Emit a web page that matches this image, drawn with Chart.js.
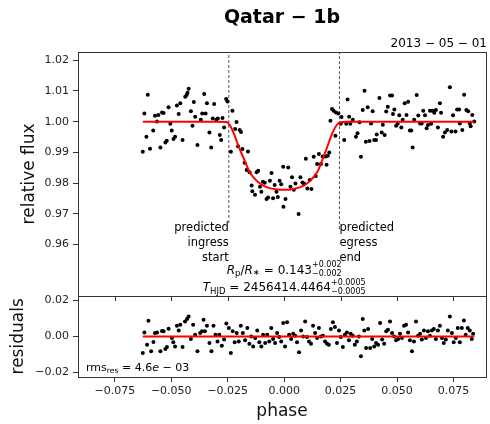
<!DOCTYPE html>
<html>
<head>
<meta charset="utf-8">
<script src="https://cdn.jsdelivr.net/npm/chart.js@4.4.1/dist/chart.umd.min.js"></script>
<style>
  body { margin: 0; background: #fff; }
  #wrap { width: 490px; height: 424px; position: relative; }
</style>
</head>
<body>
<div id="wrap"><canvas id="transit"></canvas></div>
<script>
// light curve
const phaseData = [
  -0.0626, -0.0619, -0.0610, -0.0604, -0.0594, -0.0580, -0.0572, -0.0563, -0.0557, -0.0548,
  -0.0541, -0.0534, -0.0526, -0.0520, -0.0512, -0.0504, -0.0498, -0.0490, -0.0483, -0.0475,
  -0.0467, -0.0460, -0.0450, -0.0438, -0.0432, -0.0428, -0.0423, -0.0413, -0.0406, -0.0400,
  -0.0394, -0.0384, -0.0369, -0.0363, -0.0354, -0.0348, -0.0342, -0.0331, -0.0323, -0.0316,
  -0.0310, -0.0300, -0.0294, -0.0285, -0.0279, -0.0273, -0.0266, -0.0257, -0.0251, -0.0236,
  -0.0229, -0.0211, -0.0217, -0.0197, -0.0191, -0.0204, -0.0185, -0.0160, -0.0175, -0.0166,
  -0.0153, -0.0122, -0.0115, -0.0144, -0.0141, -0.0129, -0.0107, -0.0101, -0.0094, -0.0086,
  -0.0078, -0.0071, -0.0063, -0.0056, -0.0049, -0.0042, -0.0034, -0.0028, -0.0020, -0.0013,
  -0.0004, -0.0003, 0.0006, 0.0018, 0.0028, 0.0035, 0.0043, 0.0050, 0.0064, 0.0072,
  0.0081, 0.0088, 0.0096, 0.0103, 0.0113, 0.0121, 0.0131, 0.0140, 0.0146, 0.0154,
  0.0163, 0.0171, 0.0183, 0.0188, 0.0193, 0.0200, 0.0205, 0.0212, 0.0219, 0.0229,
  0.0240, 0.0227, 0.0254, 0.0251, 0.0266, 0.0275, 0.0281, 0.0288, 0.0293, 0.0304,
  0.0318, 0.0325, 0.0334, 0.0340, 0.0348, 0.0356, 0.0362, 0.0370, 0.0378, 0.0385,
  0.0392, 0.0399, 0.0407, 0.0410, 0.0422, 0.0432, 0.0437, 0.0445, 0.0452, 0.0459,
  0.0469, 0.0478, 0.0482, 0.0488, 0.0496, 0.0503, 0.0510, 0.0519, 0.0525, 0.0534,
  0.0542, 0.0549, 0.0557, 0.0563, 0.0569, 0.0576, 0.0587, 0.0594, 0.0602, 0.0609,
  0.0616, 0.0624, 0.0631, 0.0637, 0.0646, 0.0651, 0.0657, 0.0665, 0.0672, 0.0681,
  0.0690, 0.0695, 0.0704, 0.0712, 0.0722, 0.0734, 0.0741, 0.0748, 0.0759, 0.0766,
  0.0775, 0.0778, 0.0789, 0.0797, 0.0807, 0.0815, 0.0822, 0.0826, 0.0833, 0.0842
];
const fluxData = [
  0.9902, 1.0027, 0.9951, 1.0088, 0.9912, 0.9971, 1.0019, 1.0001, 1.0022, 0.9916,
  1.0030, 1.0028, 0.9932, 0.9938, 1.0047, 0.9993, 0.9971, 0.9944, 0.9951, 1.0053,
  1.0025, 1.0060, 0.9940, 1.0081, 1.0087, 1.0094, 1.0107, 1.0034, 0.9987, 1.0064,
  1.0016, 0.9924, 1.0006, 1.0027, 1.0090, 1.0027, 1.0060, 0.9965, 0.9916, 1.0010,
  1.0058, 1.0006, 1.0010, 0.9957, 0.9940, 1.0012, 0.9981, 1.0074, 1.0066, 0.9902,
  1.0036, 0.9999, 0.9976, 0.9973, 0.9966, 0.9920, 0.9911, 0.9903, 0.9866, 0.9843,
  0.9835, 0.9835, 0.9840, 0.9792, 0.9773, 0.9762, 0.9788, 0.9772, 0.9804, 0.9801,
  0.9748, 0.9753, 0.9808, 0.9833, 0.9751, 0.9794, 0.9772, 0.9755, 0.9808, 0.9796,
  0.9853, 0.9723, 0.9748, 0.9851, 0.9788, 0.9819, 0.9778, 0.9799, 0.9699, 0.9819,
  0.9802, 0.9799, 0.9879, 0.9782, 0.9810, 0.9781, 0.9886, 0.9823, 0.9862, 0.9895,
  0.9862, 0.9887, 0.9887, 0.9860, 0.9889, 0.9900, 1.0003, 1.0041, 1.0036, 1.0030,
  1.0027, 0.9954, 1.0015, 0.9993, 0.9940, 0.9993, 1.0072, 1.0016, 0.9993, 1.0006,
  0.9951, 0.9962, 0.9998, 0.9886, 1.0038, 1.0101, 0.9935, 1.0047, 0.9937, 0.9994,
  1.0034, 0.9940, 0.9940, 0.9958, 1.0077, 0.9965, 0.9990, 0.9957, 1.0033, 1.0049,
  1.0085, 1.0085, 1.0025, 1.0040, 0.9987, 0.9993, 1.0021, 0.9981, 1.0006, 1.0060,
  1.0022, 1.0065, 0.9971, 0.9971, 0.9916, 1.0006, 1.0087, 1.0020, 0.9994, 0.9994,
  1.0036, 1.0021, 0.9979, 0.9989, 1.0036, 0.9993, 1.0036, 1.0029, 1.0038, 0.9981,
  1.0060, 1.0029, 0.9951, 0.9965, 0.9973, 1.0112, 0.9968, 1.0021, 0.9968, 1.0040,
  1.0040, 0.9994, 0.9973, 1.0088, 1.0038, 1.0034, 0.9994, 0.9985, 1.0022, 1.0001
];

// fitted transit model (red curve)
const modelPhase = [-0.0626, -0.0300, -0.0255, -0.0239, -0.0222, -0.0200, -0.0178, -0.0156, -0.0134, -0.0104,
  -0.0075, -0.0031, 0.0006, 0.0043, 0.0087, 0.0116, 0.0146, 0.0168, 0.0190, 0.0212,
  0.0234, 0.0249, 0.0280, 0.0842];
const modelFlux = [1.0000, 1.0000, 0.9999, 0.9987, 0.9960, 0.9916, 0.9879, 0.9840, 0.9817, 0.9797,
  0.9786, 0.9779, 0.9778, 0.9781, 0.9792, 0.9808, 0.9835, 0.9873, 0.9916, 0.9960,
  0.9990, 0.9998, 1.0000, 1.0000];

// residuals panel
const phaseRes = [
  -0.0626, -0.0619, -0.0607, -0.0601, -0.0589, -0.0579, -0.0572, -0.0563, -0.0548, -0.0541,
  -0.0534, -0.0526, -0.0519, -0.0512, -0.0497, -0.0491, -0.0483, -0.0475, -0.0467, -0.0460,
  -0.0450, -0.0439, -0.0430, -0.0423, -0.0413, -0.0403, -0.0394, -0.0384, -0.0372, -0.0364,
  -0.0357, -0.0351, -0.0342, -0.0331, -0.0322, -0.0313, -0.0304, -0.0295, -0.0287, -0.0276,
  -0.0266, -0.0256, -0.0245, -0.0236, -0.0228, -0.0219, -0.0210, -0.0201, -0.0192, -0.0183,
  -0.0173, -0.0163, -0.0154, -0.0146, -0.0137, -0.0128, -0.0119, -0.0110, -0.0101, -0.0093,
  -0.0084, -0.0075, -0.0066, -0.0057, -0.0049, -0.0040, -0.0031, -0.0022, -0.0013, -0.0004,
  0.0004, 0.0013, 0.0022, 0.0031, 0.0040, 0.0049, 0.0057, 0.0066, 0.0075, 0.0084,
  0.0093, 0.0101, 0.0110, 0.0119, 0.0128, 0.0137, 0.0146, 0.0154, 0.0163, 0.0172,
  0.0181, 0.0190, 0.0198, 0.0207, 0.0216, 0.0225, 0.0234, 0.0243, 0.0251, 0.0260,
  0.0269, 0.0278, 0.0287, 0.0295, 0.0304, 0.0313, 0.0322, 0.0331, 0.0340, 0.0348,
  0.0355, 0.0363, 0.0372, 0.0381, 0.0390, 0.0399, 0.0407, 0.0416, 0.0425, 0.0434,
  0.0443, 0.0452, 0.0460, 0.0469, 0.0478, 0.0487, 0.0496, 0.0505, 0.0513, 0.0522,
  0.0531, 0.0540, 0.0549, 0.0557, 0.0566, 0.0575, 0.0584, 0.0593, 0.0602, 0.0610,
  0.0619, 0.0628, 0.0637, 0.0646, 0.0654, 0.0663, 0.0672, 0.0681, 0.0690, 0.0699,
  0.0707, 0.0716, 0.0725, 0.0734, 0.0743, 0.0751, 0.0760, 0.0769, 0.0778, 0.0787,
  0.0796, 0.0804, 0.0813, 0.0822, 0.0831, 0.0837
];
const residuals = [
  -0.0092, 0.0022, -0.0046, 0.0087, -0.0083, -0.0031, 0.0019, 0.0022, -0.0083, 0.0030,
  0.0028, -0.0070, -0.0059, 0.0043, -0.0009, -0.0033, -0.0056, 0.0059, 0.0033, 0.0065,
  -0.0059, 0.0083, 0.0097, 0.0111, -0.0014, 0.0065, 0.0009, -0.0083, 0.0019, 0.0028,
  0.0093, 0.0028, 0.0059, -0.0037, -0.0083, 0.0059, 0.0009, -0.0028, 0.0009, -0.0052,
  -0.0018, 0.0071, 0.0047, -0.0092, 0.0028, -0.0033, 0.0019, -0.0028, 0.0059, 0.0019,
  -0.0022, 0.0047, -0.0041, 0.0000, -0.0056, -0.0009, 0.0033, -0.0033, -0.0056, 0.0009,
  -0.0037, 0.0009, -0.0028, 0.0047, -0.0014, -0.0037, 0.0019, -0.0003, -0.0028, 0.0075,
  -0.0056, 0.0078, 0.0009, -0.0014, 0.0015, 0.0004, -0.0033, -0.0089, 0.0033, 0.0000,
  0.0083, -0.0003, -0.0028, -0.0041, 0.0059, 0.0019, -0.0009, 0.0047, 0.0000, 0.0004,
  -0.0028, -0.0041, -0.0046, 0.0041, 0.0078, 0.0052, -0.0037, 0.0033, -0.0003, -0.0059,
  0.0009, 0.0022, -0.0022, 0.0015, 0.0004, -0.0046, -0.0028, 0.0000, -0.0111, 0.0097,
  0.0033, -0.0064, 0.0041, -0.0064, -0.0014, -0.0056, -0.0037, -0.0046, 0.0075, -0.0018,
  -0.0041, 0.0028, 0.0037, 0.0083, 0.0019, 0.0000, -0.0022, -0.0014, 0.0015, -0.0009,
  0.0059, 0.0065, 0.0022, -0.0022, -0.0083, -0.0028, 0.0083, 0.0004, 0.0015, -0.0018,
  0.0033, -0.0009, 0.0028, 0.0004, 0.0033, 0.0041, -0.0014, 0.0033, 0.0059, -0.0009,
  -0.0037, -0.0018, 0.0033, 0.0111, 0.0019, -0.0033, -0.0009, 0.0047, -0.0033, 0.0047,
  0.0089, 0.0009, 0.0047, 0.0033, -0.0014, 0.0015
];
const resLinePhase = [-0.0626, 0.0842];
const resLineValue = [0, 0];

const ingressPhase = -0.0245, egressPhase = 0.0245;
const xTicks = [-0.075, -0.05, -0.025, 0, 0.025, 0.05, 0.075];
const fluxTicks = [0.96, 0.97, 0.98, 0.99, 1.00, 1.01, 1.02];
const resTicks = [-0.02, 0, 0.02];

const FAMILY = '"DejaVu Sans", sans-serif';
const AXIS = '#333';
const pts = (xs, ys) => xs.map((x, i) => ({ x: x, y: ys[i] }));
const fmt = d => v => (v < -1e-9 ? '\u2212' : '') + Math.abs(v).toFixed(d);

function partWidth(ctx, p) {
  ctx.font = (p.italic ? 'italic ' : '') + p.size + 'px ' + FAMILY;
  if (p.sup) return Math.max(ctx.measureText(p.sup).width, ctx.measureText(p.sub).width);
  return ctx.measureText(p.t).width;
}
// draws a run of mathtext-like pieces (sub/superscripts)
function drawMath(ctx, parts, x, base, align) {
  const w = parts.reduce((s, p) => s + partWidth(ctx, p), 0);
  let cx = align === 'center' ? x - w / 2 : x;
  ctx.textAlign = 'left';
  ctx.textBaseline = 'alphabetic';
  for (const p of parts) {
    const pw = partWidth(ctx, p);
    if (p.sup) {
      ctx.fillText(p.sup, cx, base + p.supDy);
      ctx.fillText(p.sub, cx, base + p.subDy);
    } else {
      ctx.fillText(p.t, cx, base + (p.dy || 0));
    }
    cx += pw;
  }
}

const decorations = {
  id: 'decorations',
  afterDraw(chart) {
    const { ctx, chartArea: area, scales } = chart;
    const x = scales.x, yTop = scales.y, yRes = scales.y2;
    ctx.save();
    // panel frames
    ctx.strokeStyle = AXIS;
    ctx.lineWidth = 1;
    [yTop, yRes].forEach(s => {
      ctx.strokeRect(Math.round(area.left) + 0.5, Math.round(s.top) + 0.5,
        Math.round(area.right - area.left), Math.round(s.bottom - s.top));
    });
    // top panel x ticks (no labels)
    ctx.beginPath();
    xTicks.forEach(v => {
      const px = Math.round(x.getPixelForValue(v)) + 0.5;
      ctx.moveTo(px, Math.round(yTop.bottom));
      ctx.lineTo(px, Math.round(yTop.bottom) + 5);
    });
    ctx.stroke();

    ctx.fillStyle = '#000';
    // title and date
    ctx.font = 'bold 19px ' + FAMILY;
    ctx.textAlign = 'center';
    ctx.textBaseline = 'middle';
    ctx.fillText('Qatar \u2212 1b', (area.left + area.right) / 2, 18);
    ctx.font = '12px ' + FAMILY;
    ctx.textAlign = 'right';
    ctx.fillText('2013 \u2212 05 \u2212 01', area.right + 1, 44);

    // ingress / egress notes
    ctx.font = '11.5px ' + FAMILY;
    const ix = x.getPixelForValue(ingressPhase), ex = x.getPixelForValue(egressPhase);
    const ny = yTop.getPixelForValue(0.9653);
    ['predicted', 'ingress', 'start'].forEach((t, i) => {
      ctx.textAlign = 'right';
      ctx.fillText(t, ix, ny + i * 15);
    });
    ['predicted', 'egress', 'end'].forEach((t, i) => {
      ctx.textAlign = 'left';
      ctx.fillText(t, ex, ny + i * 15);
    });

    // fit results
    const cx = x.getPixelForValue(0);
    drawMath(ctx, [
      { t: 'R', size: 12, italic: true },
      { t: 'p', size: 8.5, dy: 2.5 },
      { t: '/', size: 12 },
      { t: 'R', size: 12, italic: true },
      { t: '\u2217', size: 8.5, dy: 1.5 },
      { t: ' = 0.143', size: 12 },
      { sup: '+0.002', sub: '\u22120.002', size: 8, supDy: -7, subDy: 2 }
    ], cx, yTop.getPixelForValue(0.9504), 'center');
    drawMath(ctx, [
      { t: 'T', size: 12, italic: true },
      { t: 'HJD', size: 8.5, dy: 2.5 },
      { t: ' = 2456414.4464', size: 12 },
      { sup: '+0.0005', sub: '\u22120.0005', size: 8, supDy: -6.5, subDy: 2.5 }
    ], cx, yTop.getPixelForValue(0.9447), 'center');

    // rms of residuals
    drawMath(ctx, [
      { t: 'rms', size: 11 },
      { t: 'res', size: 7.7, dy: 2.5 },
      { t: ' = 4.6', size: 11 },
      { t: 'e', size: 11, italic: true },
      { t: ' \u2212 03', size: 11 }
    ], area.left + 8, yRes.getPixelForValue(-0.0191), 'left');
    ctx.restore();
  }
};

const tickFont = { family: FAMILY, size: 11 };
const titleFont = { family: FAMILY, size: 17 };

new Chart(document.getElementById('transit'), {
  type: 'scatter',
  data: {
    datasets: [
      {
        label: 'model',
        data: pts(modelPhase, modelFlux),
        yAxisID: 'y',
        showLine: true,
        borderColor: '#ff0000',
        borderWidth: 2,
        pointRadius: 0,
        cubicInterpolationMode: 'monotone',
        order: 0
      },
      {
        label: 'flux',
        data: pts(phaseData, fluxData),
        yAxisID: 'y',
        pointRadius: 2,
        backgroundColor: '#000',
        borderWidth: 0,
        order: 1
      },
      {
        label: 'ingress',
        data: [{ x: ingressPhase, y: 0.967 }, { x: ingressPhase, y: 1.03 }],
        yAxisID: 'y',
        showLine: true,
        borderColor: '#555',
        borderWidth: 1,
        borderDash: [3, 2],
        pointRadius: 0,
        order: 2
      },
      {
        label: 'egress',
        data: [{ x: egressPhase, y: 0.965 }, { x: egressPhase, y: 1.03 }],
        yAxisID: 'y',
        showLine: true,
        borderColor: '#555',
        borderWidth: 1,
        borderDash: [3, 2],
        pointRadius: 0,
        order: 2
      },
      {
        label: 'zero',
        data: pts(resLinePhase, resLineValue),
        yAxisID: 'y2',
        showLine: true,
        borderColor: '#ff0000',
        borderWidth: 2,
        pointRadius: 0,
        order: 0
      },
      {
        label: 'residuals',
        data: pts(phaseRes, residuals),
        yAxisID: 'y2',
        pointRadius: 2,
        backgroundColor: '#000',
        borderWidth: 0,
        order: 1
      }
    ]
  },
  options: {
    responsive: true,
    maintainAspectRatio: false,
    animation: false,
    layout: { padding: { top: 52, right: 2, left: 0, bottom: 0 } },
    plugins: { legend: { display: false }, tooltip: { enabled: false } },
    scales: {
      x: {
        type: 'linear',
        min: -0.0913,
        max: 0.0894,
        afterBuildTicks: s => { s.ticks = xTicks.map(v => ({ value: v })); },
        afterFit: s => { s.height = 47; },
        ticks: { callback: fmt(3), font: tickFont, color: '#222', padding: 3, autoSkip: false, maxRotation: 0 },
        grid: { drawOnChartArea: false, tickLength: 5, color: AXIS },
        border: { display: false },
        title: { display: true, text: 'phase', font: titleFont, color: '#111', padding: { top: 0, bottom: 2 } }
      },
      y: {
        type: 'linear',
        axis: 'y',
        position: 'left',
        stack: 'panels',
        stackWeight: 3,
        weight: 2,
        min: 0.9433,
        max: 1.0227,
        afterBuildTicks: s => { s.ticks = fluxTicks.map(v => ({ value: v })); },
        afterFit: s => { s.width = 78; },
        ticks: { callback: fmt(2), font: tickFont, color: '#222', padding: 4 },
        grid: { drawOnChartArea: false, tickLength: 5, color: AXIS },
        border: { display: false },
        title: { display: true, text: 'relative flux', font: titleFont, color: '#111', padding: { top: 19 } }
      },
      y2: {
        type: 'linear',
        axis: 'y',
        position: 'left',
        stack: 'panels',
        stackWeight: 1,
        weight: 1,
        min: -0.0226,
        max: 0.0226,
        afterBuildTicks: s => { s.ticks = resTicks.map(v => ({ value: v })); },
        afterFit: s => { s.width = 78; },
        ticks: { callback: fmt(2), font: tickFont, color: '#222', padding: 4 },
        grid: { drawOnChartArea: false, tickLength: 5, color: AXIS },
        border: { display: false },
        title: { display: true, text: 'residuals', font: titleFont, color: '#111', padding: { top: 8 } }
      }
    }
  },
  plugins: [decorations]
});
</script>
</body>
</html>
